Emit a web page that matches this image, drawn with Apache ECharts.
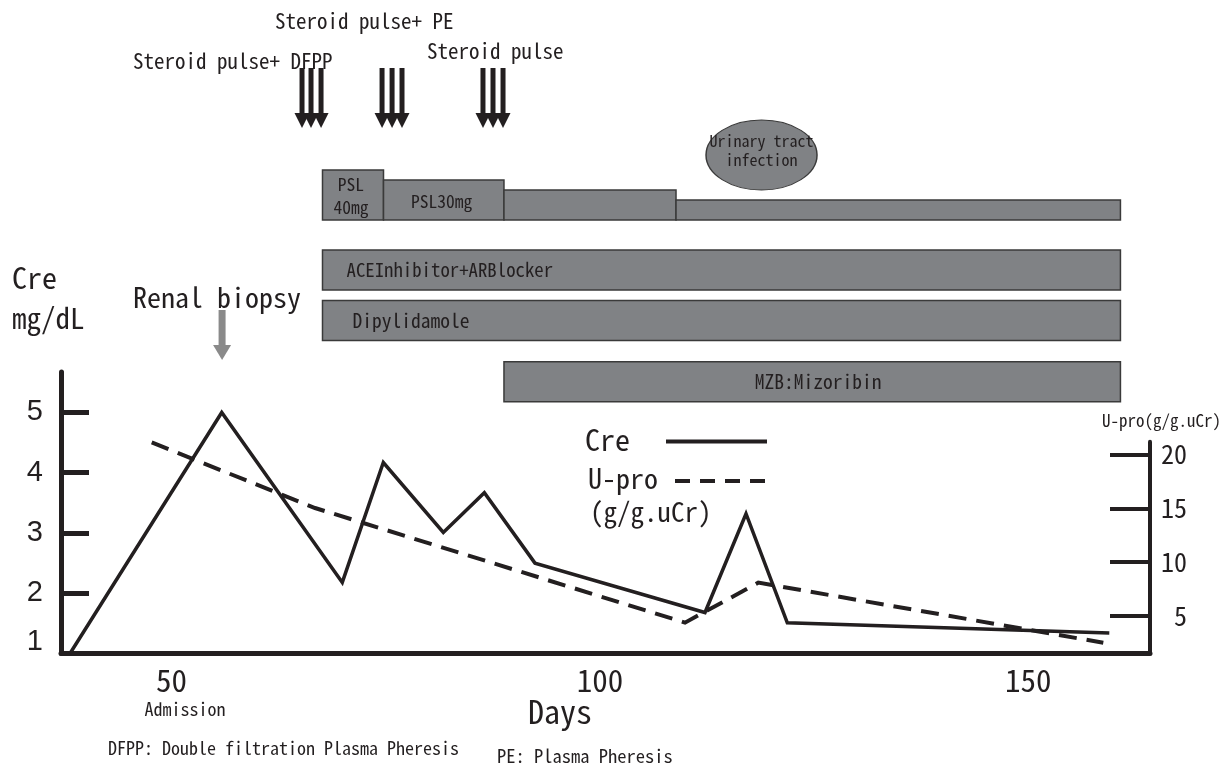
<!DOCTYPE html>
<html><head><meta charset="utf-8">
<script src="https://cdn.jsdelivr.net/npm/echarts@6/dist/echarts.min.js"></script>
<style>html,body{margin:0;padding:0;background:#fff}#c{width:1232px;height:765px}</style>
</head><body><div id="c"></div>
<script>
// ---------------- data ----------------
const creDays   = [38.15, 55.86, 69.93, 74.72, 81.72, 86.51, 92.42, 112.26, 117.05, 121.87, 159.45];
const creValues = [1.0, 5.0, 2.18, 4.17, 3.01, 3.67, 2.50, 1.68, 3.32, 1.51, 1.34];
const uproDays   = [47.69, 66.75, 109.93, 118.48, 158.75];
const uproValues = [21.13, 15.03, 4.37, 8.09, 2.50];
const dayTicks  = [50, 100, 150];
const creTicks  = [1, 2, 3, 4, 5];
const uproTicks = [5, 10, 15, 20];
const pslStart  = [67.62, 74.74, 88.80, 108.88];
const pslEnd    = [74.74, 88.80, 108.88, 160.75];
const pslDose   = [40, 30, 20, 10];
const pslLabels = ['PSL\n40mg', 'PSL30mg', '', ''];
const drugNames = ['ACEInhibitor+ARBlocker', 'Dipylidamole', 'MZB:Mizoribin'];
const drugStart = [67.62, 67.62, 88.80];
const drugEnd   = [160.75, 160.75, 160.75];
const pulseLabels = ['Steroid pulse+ DFPP', 'Steroid pulse+ PE', 'Steroid pulse'];
const pulseDays = [[65.23, 66.28, 67.45], [74.57, 75.74, 76.90], [86.35, 87.52, 88.69]];
const biopsyDay = 55.9;
const infectionDay = 118.86;

// ---------------- styles ----------------
const INK = '#231f20', BAR = '#808285', EDGE = '#3a3a3a', ARROW_GRAY = '#8a8a8a';
const FONT = "'Noto Sans Mono CJK JP','Noto Sans CJK JP',monospace";
const NUMFONT = "'Liberation Sans',Arial,sans-serif";
const X_MIN = 37.1, X_MAX = 164.2, GL = 61, GR = 82;
const f = s => s + 'px ' + FONT;

const grids = [
  {left: GL, right: GR, top: 372, bottom: 111.5},    // 0 Cre
  {left: GL, right: GR, top: 441.7, bottom: 111.5},  // 1 U-pro
  {left: GL, right: GR, top: 68, height: 60},        // 2 pulses
  {left: GL, right: GR, top: 120, height: 70},       // 3 infection
  {left: GL, right: GR, top: 170, height: 50},       // 4 PSL
  {left: GL, right: GR, top: 250, height: 40},       // 5 ACE
  {left: GL, right: GR, top: 300.5, height: 40},     // 6 Dip
  {left: GL, right: GR, top: 361.7, height: 40},     // 7 MZB
  {left: GL, right: GR, top: 310, height: 50}        // 8 biopsy
];
const xAxes = grids.map((g, i) => i === 0 ? {
  type: 'value', gridIndex: 0, min: X_MIN, max: X_MAX,
  axisLine: {show: true, onZero: false, lineStyle: {color: INK, width: 5}},
  axisTick: {show: false},
  splitLine: {show: false},
  axisLabel: {customValues: dayTicks, color: INK, fontSize: 31, fontFamily: FONT, margin: 11}
} : {type: 'value', gridIndex: i, min: X_MIN, max: X_MAX, show: false});

const yAxes = [
  {type: 'value', gridIndex: 0, min: 1, max: 5.672, position: 'left',
    axisLine: {show: true, onZero: false, lineStyle: {color: INK, width: 5}},
    axisTick: {show: true, inside: true, length: 28, customValues: creTicks, lineStyle: {color: INK, width: 5}},
    splitLine: {show: false},
    axisLabel: {customValues: creTicks, color: INK, fontSize: 29, fontFamily: NUMFONT, margin: 18,
      formatter: v => v === 1 ? '{lo|1}' : String(v),
      rich: {lo: {fontSize: 29, fontFamily: NUMFONT, color: INK, padding: [0, 0, 24, 0]}}}},
  {type: 'value', gridIndex: 1, min: 1.5, max: 21.2, position: 'right',
    axisLine: {show: true, onZero: false, lineStyle: {color: INK, width: 4}},
    axisTick: {show: true, inside: true, length: 40, customValues: uproTicks, lineStyle: {color: INK, width: 4}},
    splitLine: {show: false},
    axisLabel: {customValues: uproTicks, color: INK, fontSize: 26, fontFamily: FONT, margin: 37, align: 'right'}},
  {type: 'value', gridIndex: 2, min: 0, max: 1, show: false},
  {type: 'value', gridIndex: 3, min: 0, max: 1, show: false},
  {type: 'value', gridIndex: 4, min: -10, max: 40, show: false},
  {type: 'value', gridIndex: 5, min: 0, max: 1, show: false},
  {type: 'value', gridIndex: 6, min: 0, max: 1, show: false},
  {type: 'value', gridIndex: 7, min: 0, max: 1, show: false},
  {type: 'value', gridIndex: 8, min: 0, max: 1, show: false}
];

const barStyle = {fill: BAR, stroke: EDGE, lineWidth: 1.5};
const drugTextStyle = [{align: 'left', dx: 24, size: 18.8}, {align: 'left', dx: 30, size: 19.5}, {align: 'center', dx: 0, size: 19.5}];

const series = [
  {type: 'line', name: 'Cre', xAxisIndex: 0, yAxisIndex: 0, symbol: 'none', z: 5,
    data: creDays.map((d, i) => [d, creValues[i]]),
    lineStyle: {color: INK, width: 3.5, join: 'miter'}},
  {type: 'line', name: 'U-pro', xAxisIndex: 1, yAxisIndex: 1, symbol: 'none', z: 4,
    data: uproDays.map((d, i) => [d, uproValues[i]]),
    lineStyle: {color: INK, width: 4, type: [18, 10], join: 'miter'}},
  {type: 'custom', xAxisIndex: 4, yAxisIndex: 4,
    data: pslStart.map((s, i) => [s, pslEnd[i], pslDose[i], i]),
    renderItem: (params, api) => {
      const p0 = api.coord([api.value(0), api.value(2)]);
      const p1 = api.coord([api.value(1), -10]);
      const lab = pslLabels[api.value(3)];
      return {type: 'group', children: [
        {type: 'rect', shape: {x: p0[0], y: p0[1], width: p1[0] - p0[0], height: p1[1] - p0[1]}, style: barStyle},
        {type: 'text', style: {text: lab, x: (p0[0] + p1[0]) / 2 - 2, y: (p0[1] + p1[1]) / 2 + 1, align: 'center', verticalAlign: 'middle', font: f(17.5), lineHeight: 23, fill: INK}}
      ]};
    }},
  ...drugNames.map((n, i) => ({type: 'custom', xAxisIndex: 5 + i, yAxisIndex: 5 + i,
    data: [[drugStart[i], drugEnd[i]]],
    renderItem: (params, api) => {
      const cs = params.coordSys;
      const x0 = api.coord([api.value(0), 0])[0], x1 = api.coord([api.value(1), 0])[0];
      const st = drugTextStyle[i];
      return {type: 'group', children: [
        {type: 'rect', shape: {x: x0, y: cs.y, width: x1 - x0, height: cs.height}, style: barStyle},
        {type: 'text', style: {text: n, x: st.align === 'center' ? (x0 + x1) / 2 + 6 : x0 + st.dx, y: cs.y + cs.height / 2, align: st.align, verticalAlign: 'middle', font: f(st.size), fill: INK}}
      ]};
    }})),
  {type: 'custom', xAxisIndex: 2, yAxisIndex: 2,
    data: pulseDays.flat().map(d => [d]),
    renderItem: (params, api) => {
      const cs = params.coordSys;
      const x = api.coord([api.value(0), 0])[0];
      const sb = cs.y + 45, tip = cs.y + cs.height;
      return {type: 'group', children: [
        {type: 'rect', shape: {x: x - 2.5, y: cs.y, width: 5, height: 46}, style: {fill: INK}},
        {type: 'polygon', shape: {points: [[x - 7.5, sb], [x + 7.5, sb], [x, tip]]}, style: {fill: INK}}
      ]};
    }},
  {type: 'custom', xAxisIndex: 3, yAxisIndex: 3,
    data: [[infectionDay]],
    renderItem: (params, api) => {
      const cs = params.coordSys;
      const cx = api.coord([api.value(0), 0])[0], cy = cs.y + cs.height / 2;
      return {type: 'group', children: [
        {type: 'circle', shape: {cx: 0, cy: 0, r: 55.5}, x: cx, y: cy, scaleY: 35 / 55.5, style: {fill: BAR, stroke: EDGE, lineWidth: 1.5, strokeNoScale: true}},
        {type: 'text', style: {text: 'Urinary tract\ninfection', x: cx, y: cy - 4.5, align: 'center', verticalAlign: 'middle', font: f(16), lineHeight: 19, fill: INK}}
      ]};
    }},
  {type: 'custom', xAxisIndex: 8, yAxisIndex: 8,
    data: [[biopsyDay]],
    renderItem: (params, api) => {
      const cs = params.coordSys;
      const x = api.coord([api.value(0), 0])[0];
      const hb = cs.y + 35, tip = cs.y + cs.height;
      return {type: 'group', children: [
        {type: 'rect', shape: {x: x - 3.5, y: cs.y, width: 7, height: 36}, style: {fill: ARROW_GRAY}},
        {type: 'polygon', shape: {points: [[x - 9, hb], [x + 9, hb], [x, tip]]}, style: {fill: ARROW_GRAY}}
      ]};
    }}
];

const T = (text, x, y, size, align) => ({type: 'text', x: x, y: y, z: 10,
  style: {text: text, font: f(size), fill: INK, align: align || 'left', verticalAlign: 'middle'}});

const graphic = [
  T(pulseLabels[1], 275, 21, 21),
  T(pulseLabels[0], 133, 61, 21),
  T(pulseLabels[2], 427, 51, 21),
  T('Cre', 12, 278, 30),
  T('mg/dL', 12, 318, 29),
  T('Renal biopsy', 133, 297, 28),
  T('U-pro(g/g.uCr)', 1102, 421, 17),
  T('Cre', 585, 440, 30),
  {type: 'line', shape: {x1: 666, y1: 441.5, x2: 767, y2: 441.5}, style: {stroke: INK, lineWidth: 4}},
  T('U-pro', 588, 478, 28),
  {type: 'line', shape: {x1: 675, y1: 481, x2: 767, y2: 481}, style: {stroke: INK, lineWidth: 4, lineDash: [15, 10]}},
  T('(g/g.uCr)', 590, 512, 27),
  T('Admission', 185, 709, 18, 'center'),
  T('Days', 528, 712, 32),
  T('DFPP: Double filtration Plasma Pheresis', 108, 748, 18),
  T('PE: Plasma Pheresis', 497, 756, 18.5)
];

const chart = echarts.init(document.getElementById('c'), null, {renderer: 'canvas'});
chart.setOption({
  animation: false,
  backgroundColor: '#fff',
  grid: grids,
  xAxis: xAxes,
  yAxis: yAxes,
  series: series,
  graphic: graphic
});
</script></body></html>
